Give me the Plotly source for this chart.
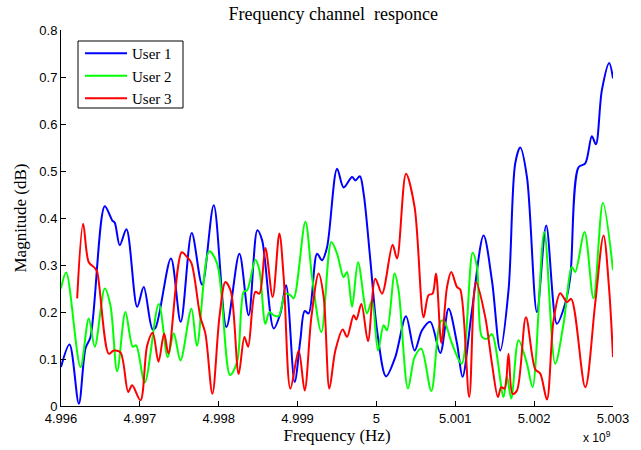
import plotly.graph_objects as go

# Frequency offsets in MHz from 4996 MHz, magnitude values
u1_f = [0.0, 0.108, 0.226, 0.311, 0.374, 0.555, 0.649, 0.682, 0.745, 0.830, 0.966, 1.049, 1.160, 1.198,
        1.394, 1.518, 1.658, 1.790, 1.937, 2.098, 2.262, 2.380, 2.490, 2.550, 2.697, 2.782, 2.854, 2.963,
        3.035, 3.090, 3.141, 3.247, 3.310, 3.374, 3.501, 3.584, 3.691, 3.733, 3.790, 3.838, 3.923, 4.008,
        4.122, 4.239, 4.375, 4.484, 4.578, 4.683, 4.810, 4.915, 5.022, 5.092, 5.212, 5.359, 5.465, 5.570,
        5.675, 5.760, 5.824, 5.909, 6.035, 6.153, 6.289, 6.394, 6.458, 6.563, 6.648, 6.732, 6.783, 6.859,
        6.952, 7.0]
u1_mag = [0.083, 0.131, 0.005, 0.123, 0.147, 0.425, 0.395, 0.390, 0.342, 0.376, 0.211, 0.253, 0.163, 0.166,
          0.314, 0.179, 0.368, 0.258, 0.427, 0.168, 0.324, 0.193, 0.374, 0.353, 0.165, 0.197, 0.257, 0.051,
          0.140, 0.202, 0.197, 0.324, 0.310, 0.338, 0.505, 0.465, 0.487, 0.480, 0.489, 0.452, 0.310, 0.161,
          0.063, 0.104, 0.191, 0.118, 0.161, 0.179, 0.113, 0.207, 0.133, 0.062, 0.204, 0.363, 0.267, 0.118,
          0.246, 0.516, 0.550, 0.487, 0.200, 0.384, 0.175, 0.218, 0.274, 0.508, 0.516, 0.574, 0.557, 0.672,
          0.730, 0.697]

u2_f = [0.0, 0.066, 0.247, 0.352, 0.428, 0.555, 0.627, 0.712, 0.817, 0.910, 0.953, 1.062, 1.240, 1.354,
        1.430, 1.515, 1.654, 1.724, 1.878, 1.980, 2.144, 2.233, 2.317, 2.360, 2.465, 2.516, 2.592, 2.643,
        2.697, 2.760, 2.845, 2.909, 2.951, 3.099, 3.184, 3.302, 3.428, 3.501, 3.584, 3.627, 3.691, 3.767,
        3.881, 3.944, 4.020, 4.091, 4.134, 4.231, 4.281, 4.400, 4.484, 4.569, 4.696, 4.810, 4.852, 4.958,
        5.082, 5.219, 5.275, 5.338, 5.402, 5.465, 5.612, 5.655, 5.710, 5.802, 5.909, 5.980, 6.128, 6.267,
        6.373, 6.479, 6.521, 6.639, 6.753, 6.872, 7.0]
u2_mag = [0.250, 0.284, 0.083, 0.186, 0.126, 0.250, 0.214, 0.074, 0.200, 0.126, 0.129, 0.050, 0.217, 0.104,
          0.155, 0.097, 0.207, 0.128, 0.329, 0.303, 0.066, 0.094, 0.243, 0.246, 0.311, 0.289, 0.175, 0.200,
          0.193, 0.191, 0.239, 0.236, 0.229, 0.392, 0.274, 0.157, 0.349, 0.324, 0.274, 0.285, 0.211, 0.306,
          0.197, 0.225, 0.118, 0.172, 0.161, 0.282, 0.246, 0.037, 0.104, 0.122, 0.032, 0.179, 0.182, 0.133,
          0.090, 0.326, 0.296, 0.147, 0.143, 0.153, 0.019, 0.062, 0.016, 0.140, 0.090, 0.040, 0.370, 0.090,
          0.175, 0.296, 0.285, 0.370, 0.229, 0.432, 0.289]

u3_f = [0.205, 0.281, 0.352, 0.428, 0.459, 0.606, 0.669, 0.754, 0.852, 0.902, 1.008, 1.093, 1.163, 1.236,
        1.308, 1.362, 1.531, 1.599, 1.654, 1.768, 1.831, 1.920, 2.009, 2.085, 2.155, 2.253, 2.326, 2.373,
        2.465, 2.516, 2.592, 2.684, 2.769, 2.824, 2.909, 3.014, 3.090, 3.175, 3.267, 3.331, 3.403, 3.479,
        3.572, 3.627, 3.711, 3.745, 3.809, 3.893, 3.986, 4.071, 4.205, 4.261, 4.375, 4.484, 4.598, 4.661,
        4.712, 4.755, 4.823, 4.895, 4.949, 5.022, 5.063, 5.177, 5.262, 5.380, 5.465, 5.541, 5.583, 5.625,
        5.675, 5.726, 5.782, 5.896, 6.014, 6.077, 6.162, 6.246, 6.331, 6.416, 6.470, 6.648, 6.774, 6.880,
        6.952, 7.0]
u3_mag = [0.229, 0.388, 0.306, 0.294, 0.285, 0.111, 0.118, 0.114, 0.030, 0.044, 0.012, 0.129, 0.156, 0.094,
          0.154, 0.112, 0.327, 0.317, 0.304, 0.189, 0.154, 0.026, 0.189, 0.264, 0.243, 0.068, 0.147, 0.126,
          0.243, 0.239, 0.336, 0.232, 0.367, 0.274, 0.037, 0.118, 0.033, 0.189, 0.282, 0.232, 0.037, 0.118,
          0.163, 0.147, 0.193, 0.184, 0.217, 0.138, 0.271, 0.239, 0.343, 0.314, 0.494, 0.423, 0.189, 0.236,
          0.239, 0.282, 0.134, 0.253, 0.285, 0.253, 0.248, 0.019, 0.264, 0.189, 0.090, 0.019, 0.040, 0.037,
          0.111, 0.026, 0.033, 0.189, 0.078, 0.069, 0.014, 0.182, 0.240, 0.221, 0.228, 0.040, 0.218, 0.363,
          0.246, 0.104]

series_names = ["User 1", "User 2", "User 3"]
series_colors = ["#0000FF", "#00FF00", "#FF0000"]

x_tick_vals_mhz = [0, 1, 2, 3, 4, 5, 6, 7]
x_tick_text = ["4.996", "4.997", "4.998", "4.999", "5", "5.001", "5.002", "5.003"]
y_tick_vals = [0, 0.1, 0.2, 0.3, 0.4, 0.5, 0.6, 0.7, 0.8]
y_tick_text = ["0", "0.1", "0.2", "0.3", "0.4", "0.5", "0.6", "0.7", "0.8"]

BASE = 4.996e9


def to_hz(offs):
    return [BASE + o * 1e6 for o in offs]


fig = go.Figure()
for f, m, name, col in zip([u1_f, u2_f, u3_f], [u1_mag, u2_mag, u3_mag], series_names, series_colors):
    fig.add_trace(go.Scatter(x=to_hz(f), y=m, mode="lines", name=name,
                             line=dict(color=col, width=2, shape="spline", smoothing=0.9)))

serif = "Liberation Serif, Times New Roman, serif"
sans = "Liberation Sans, Arial, sans-serif"

PW, PH = 552, 376  # plot area size in px (l=61, t=30)

fig.update_layout(
    width=641, height=450,
    margin=dict(l=61, r=28, t=30, b=44),
    paper_bgcolor="white", plot_bgcolor="white",
    title=dict(text="Frequency channel\u00a0 responce", x=0.52, xref="container", xanchor="center",
               y=1 - 14 / 450, yref="container", yanchor="middle",
               font=dict(family=serif, size=18, color="black")),
    showlegend=True,
    legend=dict(x=(80 - 61) / PW, y=1 - (37 - 30) / PH, xanchor="left", yanchor="top",
                borderwidth=0, bgcolor="rgba(0,0,0,0)", itemwidth=42,
                font=dict(family=serif, size=15, color="black"),
                tracegroupgap=0),
    shapes=[dict(type="rect", xref="paper", yref="paper",
                 x0=(78 - 61) / PW, x1=(183 - 61) / PW,
                 y0=1 - (108 - 30) / PH, y1=1 - (41 - 30) / PH,
                 line=dict(color="black", width=1), fillcolor="white", layer="above")],
)
fig.update_xaxes(
    range=[BASE, BASE + 7e6], automargin=False,
    tickvals=to_hz(x_tick_vals_mhz), ticktext=x_tick_text,
    showline=True, linecolor="black", linewidth=1, mirror=False,
    ticks="inside", ticklen=5, tickcolor="black",
    showgrid=False, zeroline=False,
    tickfont=dict(family=sans, size=13, color="black"),
    title=dict(text="Frequency (Hz)", font=dict(family=serif, size=17, color="black"), standoff=4),
)
fig.update_yaxes(
    range=[0, 0.8], automargin=False,
    tickvals=y_tick_vals, ticktext=y_tick_text,
    showline=True, linecolor="black", linewidth=1, mirror=False,
    ticks="inside", ticklen=5, tickcolor="black",
    showgrid=False, zeroline=False,
    tickfont=dict(family=sans, size=13, color="black"),
    title=dict(text="Magnitude (dB)", font=dict(family=serif, size=17, color="black"), standoff=8),
)
fig.add_annotation(text="x 10<sup>9</sup>", xref="paper", yref="paper", x=1.0, y=-(427 - 406) / PH,
                   xanchor="right", yanchor="top", showarrow=False,
                   font=dict(family=sans, size=12, color="black"))

fig.write_html("out.html", config={"displayModeBar": False},
               post_script="document.body.style.margin='0';document.body.style.padding='0';")
